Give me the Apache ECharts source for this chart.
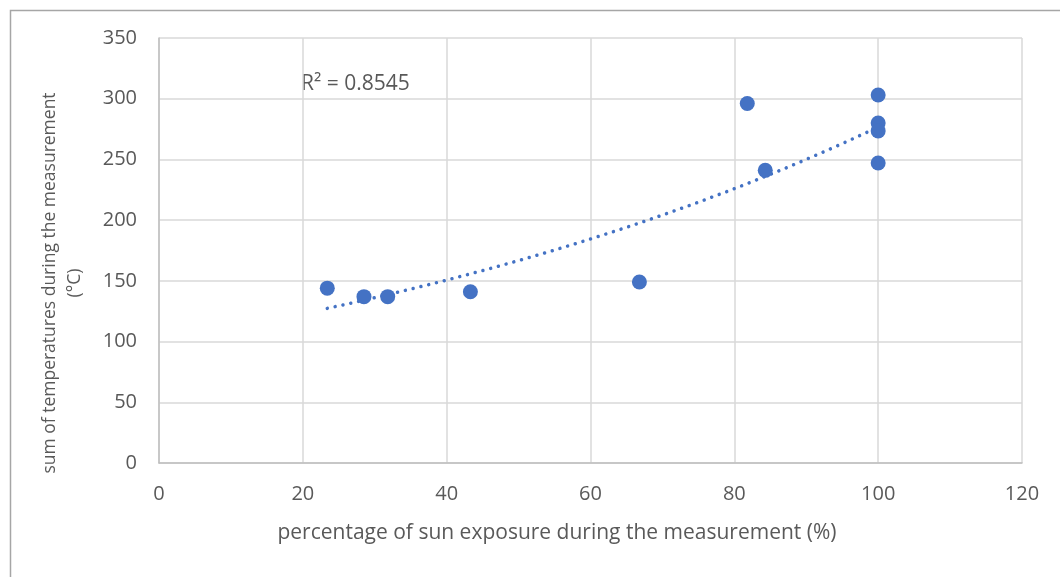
<!DOCTYPE html>
<html>
<head>
<meta charset="utf-8">
<script src="https://cdn.jsdelivr.net/npm/echarts@6/dist/echarts.min.js"></script>
<style>
html,body{margin:0;padding:0;background:#fff;}
#chart{width:1060px;height:577px;}
</style>
</head>
<body>
<div id="chart"></div>
<script>
// data
const sunExposure = [23.4, 28.5, 31.8, 43.3, 66.8, 81.8, 84.3, 100, 100, 100, 100];
const tempSum     = [144, 137, 137, 141, 149, 296, 241, 303, 280, 273.5, 247];
const r2Label = 'R² = 0.8545';
const xTitle = 'percentage of sun exposure during the measurement (%)';
const yTitle = 'sum of temperatures during the measurement\n(°C)';

// exponential trendline (least squares on ln y), as Excel does
function expFit(xs, ys) {
  const n = xs.length;
  const ly = ys.map(Math.log);
  const mx = xs.reduce((a, b) => a + b, 0) / n;
  const my = ly.reduce((a, b) => a + b, 0) / n;
  let sxy = 0, sxx = 0;
  for (let i = 0; i < n; i++) { sxy += (xs[i] - mx) * (ly[i] - my); sxx += (xs[i] - mx) * (xs[i] - mx); }
  const b = sxy / sxx;
  const a = Math.exp(my - b * mx);
  return x => a * Math.exp(b * x);
}
const f = expFit(sunExposure, tempSum);
const xMin = Math.min(...sunExposure), xMax = Math.max(...sunExposure);
const trend = [];
for (let i = 0; i <= 80; i++) { const x = xMin + (xMax - xMin) * i / 80; trend.push([x, f(x)]); }

const points = sunExposure.map((x, i) => [x, tempSum[i]]);
const FONT = '"Open Sans", sans-serif';
const TXT = '#595959';

const chart = echarts.init(document.getElementById('chart'), null, {renderer: 'canvas'});
chart.setOption({
  animation: false,
  backgroundColor: '#fff',
  grid: {left: 159, right: 38, top: 38, bottom: 114},
  xAxis: {
    type: 'value', min: 0, max: 120, interval: 20,
    axisLine: {show: true, lineStyle: {color: '#bfbfbf', width: 1.5}},
    axisTick: {show: false},
    axisLabel: {fontFamily: FONT, fontSize: 20, color: TXT, margin: 21},
    splitLine: {show: true, lineStyle: {color: '#d9d9d9', width: 1.5}}
  },
  yAxis: {
    type: 'value', min: 0, max: 350, interval: 50,
    axisLine: {show: true, lineStyle: {color: '#bfbfbf', width: 1.5}},
    axisTick: {show: false},
    axisLabel: {fontFamily: FONT, fontSize: 20, color: TXT, margin: 22},
    splitLine: {show: true, lineStyle: {color: '#d9d9d9', width: 1.5}}
  },
  graphic: [
    {type: 'rect', left: 8, top: 8, shape: {width: 1100, height: 600},
     style: {fill: 'none', stroke: '#a6a6a6', lineWidth: 1.5}, silent: true},
    {type: 'text', x: 63, y: 283, rotation: Math.PI / 2,
     style: {text: yTitle, fontFamily: FONT, fontSize: 17.5, fill: TXT,
             align: 'center', verticalAlign: 'middle', lineHeight: 25}},
    {type: 'text', x: 557, y: 533,
     style: {text: xTitle, fontFamily: FONT, fontSize: 21, fill: TXT,
             align: 'center', verticalAlign: 'middle'}},
    {type: 'text', x: 301, y: 84,
     style: {text: r2Label, fontFamily: FONT, fontSize: 21, fill: TXT,
             align: 'left', verticalAlign: 'middle'}}
  ],
  series: [
    {type: 'line', data: trend, showSymbol: false, smooth: false, z: 2,
     lineStyle: {color: '#4472c4', width: 3.5, type: [0.01, 8], cap: 'round'}},
    {type: 'scatter', data: points, symbol: 'circle', symbolSize: 15, z: 3,
     itemStyle: {color: '#4472c4', opacity: 1}}
  ]
});
</script>
</body>
</html>
